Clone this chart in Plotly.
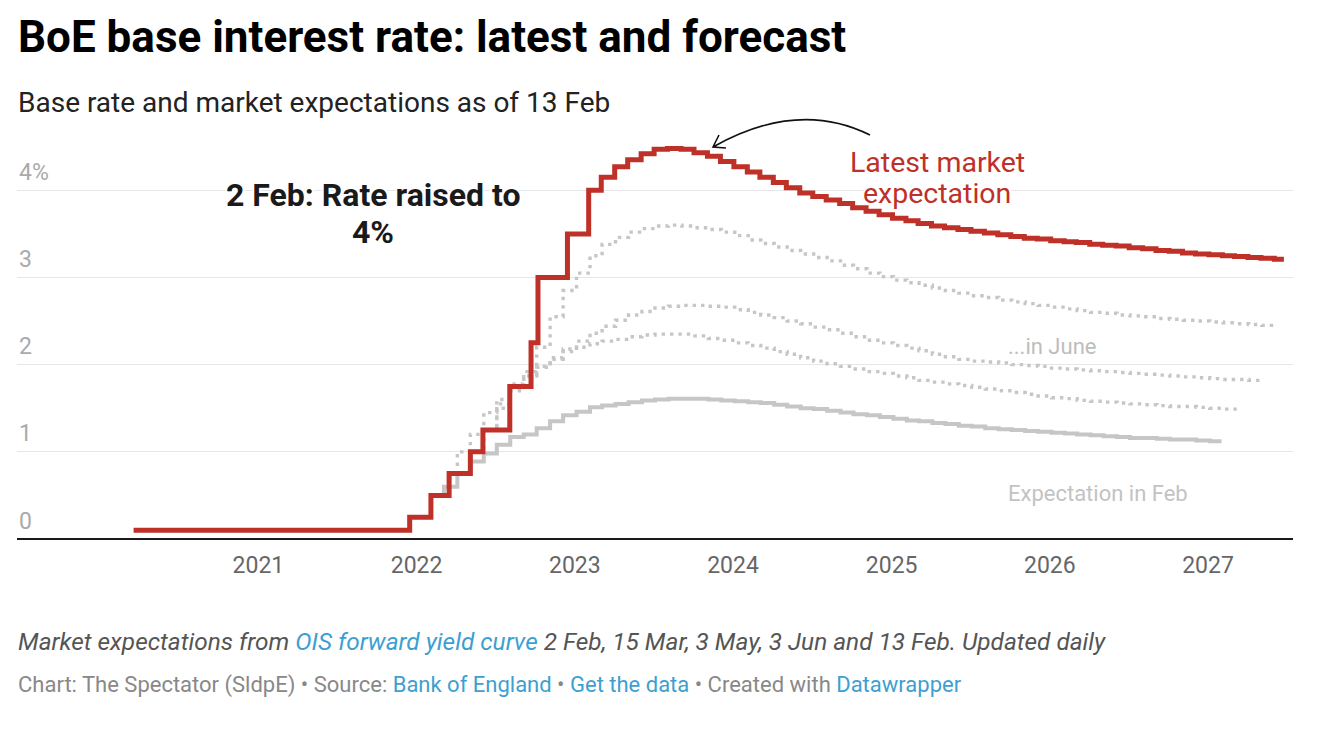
import plotly.graph_objects as go
import pandas as pd

# ---------------- data ----------------
# Bank Rate history (step changes)
base_dates = ["2020-03-19", "2021-12-16", "2022-02-03", "2022-03-17", "2022-05-05",
              "2022-06-03", "2022-08-04", "2022-09-22", "2022-10-08", "2022-12-15", "2023-02-02"]
base_values = [0.10, 0.25, 0.50, 0.75, 1.00, 1.25, 1.75, 2.25, 3.00, 3.50, 4.00]

# Latest market expectation (13 Feb), monthly from Mar 2023
latest_first_month = "2023-03-01"
latest_end = "2027-06-25"
latest_values = [4.15, 4.27, 4.35, 4.42, 4.47, 4.48, 4.47, 4.43, 4.39, 4.33,
                 4.27, 4.21, 4.15, 4.09, 4.03, 3.97, 3.93, 3.89, 3.85, 3.80, 3.76, 3.72,
                 3.68, 3.65, 3.62, 3.59, 3.57, 3.55, 3.53, 3.51, 3.49, 3.47, 3.45, 3.44,
                 3.42, 3.41, 3.40, 3.38, 3.37, 3.36, 3.34, 3.33, 3.31, 3.30, 3.28, 3.27,
                 3.26, 3.25, 3.24, 3.23, 3.22, 3.21]

# Expectation in Feb 2022 (solid grey)
feb_start, feb_start_value, feb_first_month, feb_end = "2022-02-03", 0.50, "2022-03-01", "2027-02-01"
feb_values = [0.60, 0.75, 0.89, 0.98, 1.08, 1.17, 1.20, 1.27, 1.35, 1.42,
              1.46, 1.51, 1.53, 1.55, 1.57, 1.59, 1.60, 1.61, 1.61, 1.61, 1.60, 1.59,
              1.58, 1.57, 1.56, 1.54, 1.52, 1.50, 1.49, 1.47, 1.45, 1.43, 1.42, 1.40,
              1.38, 1.36, 1.35, 1.33, 1.32, 1.30, 1.29, 1.27, 1.26, 1.25, 1.24, 1.23,
              1.22, 1.21, 1.20, 1.19, 1.18, 1.17, 1.16, 1.16, 1.15, 1.14, 1.14, 1.13,
              1.12]

# Expectation 15 Mar 2022 (dotted)
mar_start, mar_start_value, mar_first_month, mar_end = "2022-03-15", 0.75, "2022-04-01", "2027-03-15"
mar_values = [1.00, 1.20, 1.45, 1.60, 1.75, 1.87, 1.98, 2.06, 2.15,
              2.20, 2.24, 2.27, 2.29, 2.32, 2.34, 2.35, 2.35, 2.35, 2.33, 2.30, 2.28,
              2.25, 2.22, 2.19, 2.15, 2.12, 2.08, 2.04, 2.01, 1.98, 1.95, 1.92, 1.90,
              1.87, 1.85, 1.82, 1.80, 1.78, 1.76, 1.74, 1.72, 1.70, 1.68, 1.66, 1.64,
              1.62, 1.61, 1.59, 1.58, 1.57, 1.56, 1.55, 1.54, 1.53, 1.52, 1.52, 1.51,
              1.50, 1.49]

# Expectation 3 May 2022 (dotted)
may_start, may_start_value, may_first_month, may_end = "2022-05-03", 1.00, "2022-06-01", "2027-05-03"
may_values = [1.25, 1.50, 1.70, 1.85, 1.97, 2.08, 2.18,
              2.27, 2.36, 2.44, 2.51, 2.57, 2.61, 2.65, 2.67, 2.68, 2.68, 2.67, 2.66,
              2.63, 2.60, 2.57, 2.54, 2.50, 2.47, 2.43, 2.40, 2.36, 2.32, 2.28, 2.25,
              2.22, 2.19, 2.16, 2.12, 2.09, 2.06, 2.04, 2.03, 2.02, 2.00, 1.99, 1.98,
              1.96, 1.95, 1.94, 1.93, 1.92, 1.91, 1.90, 1.89, 1.88, 1.87, 1.86, 1.85,
              1.84, 1.83, 1.83, 1.82]

# Expectation 3 Jun 2022 (dotted)
jun_start, jun_start_value, jun_first_month, jun_end = "2022-06-03", 1.25, "2022-07-01", "2027-06-03"
jun_values = [1.55, 1.78, 1.92, 2.20, 2.55, 2.85,
              3.05, 3.25, 3.38, 3.46, 3.52, 3.56, 3.59, 3.60, 3.59, 3.57, 3.55, 3.52,
              3.48, 3.43, 3.39, 3.35, 3.31, 3.27, 3.23, 3.19, 3.14, 3.10, 3.05, 3.01,
              2.97, 2.94, 2.91, 2.88, 2.85, 2.82, 2.79, 2.77, 2.74, 2.72, 2.70, 2.68,
              2.66, 2.64, 2.62, 2.60, 2.59, 2.57, 2.56, 2.55, 2.53, 2.52, 2.51, 2.50,
              2.49, 2.48, 2.47, 2.46, 2.45]

year_ticks = ["2021-01-01", "2022-01-01", "2023-01-01", "2024-01-01",
              "2025-01-01", "2026-01-01", "2027-01-01"]
year_labels = ["2021", "2022", "2023", "2024", "2025", "2026", "2027"]
y_ticks = [0, 1, 2, 3, 4]
y_labels = ["0", "1", "2", "3", "4%"]
x_range = ["2019-06-24", "2027-07-16"]
y_range = [0, 4.6]

# ---------------- helpers ----------------
def monthly(first, n, day=4):
    return list(pd.date_range(first, periods=n, freq="MS") + pd.Timedelta(days=day))


def series(start, start_value, first_month, values, end):
    dates = [pd.Timestamp(start)] + monthly(first_month, len(values)) + [pd.Timestamp(end)]
    vals = [start_value] + list(values) + [values[-1]]
    return dates, vals


red_dates = [pd.Timestamp(d) for d in base_dates] + monthly(latest_first_month, len(latest_values), 2) + [pd.Timestamp(latest_end)]
red_vals = base_values + latest_values + [latest_values[-1]]

# the page has an 8px body margin: figure is laid out so page coordinates match
OFF = 8
W, H = 1326 - OFF, 730 - OFF
PL, PR, PT, PB = 17 - OFF, 1293 - OFF, 138 - OFF, 539 - OFF


def px(x):  # page x -> paper
    return (x - OFF - PL) / (PR - PL)


def py(y):  # page y -> paper
    return (PB - (y - OFF)) / (PB - PT)


RED = "#be3028"
GREY = "#c6c6c6"
LINK = "#3d9fd1"
HALO = ("#fff 2px 0 0, #fff -2px 0 0, #fff 0 2px 0, #fff 0 -2px 0, "
        "#fff 1.5px 1.5px 0, #fff -1.5px -1.5px 0, #fff 1.5px -1.5px 0, #fff -1.5px 1.5px 0")

fig = go.Figure()

for (s, sv, fm, vals, e), dash, width in [
    ((feb_start, feb_start_value, feb_first_month, feb_values, feb_end), "solid", 4),
    ((mar_start, mar_start_value, mar_first_month, mar_values, mar_end), "3.4px,5px", 3.4),
    ((may_start, may_start_value, may_first_month, may_values, may_end), "3.4px,5px", 3.4),
    ((jun_start, jun_start_value, jun_first_month, jun_values, jun_end), "3.4px,5px", 3.4),
]:
    d, v = series(s, sv, fm, vals, e)
    fig.add_trace(go.Scatter(x=d, y=v, mode="lines", line=dict(color=GREY, width=width, dash=dash, shape="hv"),
                             hoverinfo="skip"))

fig.add_trace(go.Scatter(x=red_dates, y=red_vals, mode="lines",
                         line=dict(color=RED, width=5, shape="hv"), hoverinfo="skip"))

annotations = []


def text(x, y, t, size, color, anchor="left", bold=False, italic=False, shadow=None):
    f = dict(family="Roboto", size=size, color=color)
    if shadow:
        f["shadow"] = shadow
    if bold:
        t = "<b>" + t + "</b>"
    if italic:
        t = "<i>" + t + "</i>"
    annotations.append(dict(x=x, y=y, xref="paper", yref="paper", text=t, showarrow=False,
                            xanchor=anchor, yanchor="middle", font=f, borderpad=0))


text(px(17), py(37), "BoE base interest rate: latest and forecast", 44, "#000", bold=True)
text(px(17), py(102), "Base rate and market expectations as of 13 Feb", 28, "#222")

for v, lab in zip(y_ticks, y_labels):
    annotations.append(dict(x=0, y=v, xref="paper", yref="y", text=lab, showarrow=False,
                            xanchor="left", yanchor="middle", yshift=18,
                            font=dict(family="Roboto", size=23, color="#aaaaaa")))

text(px(373), py(195), "2 Feb: Rate raised to", 32, "#1a1a1a", anchor="center", bold=True, shadow=HALO)
text(px(373), py(232), "4%", 32, "#1a1a1a", anchor="center", bold=True, shadow=HALO)
text(px(937), py(162), "Latest market", 28.5, RED, anchor="center", shadow=HALO)
text(px(937), py(193), "expectation", 28.5, RED, anchor="center", shadow=HALO)
text(px(1007), py(346), "...in June", 22, "#bdbdbd", shadow=HALO)
text(px(1007), py(493), "Expectation in Feb", 22, "#c3c3c3", shadow=HALO)

text(px(17), py(641), "Market expectations from <span style='color:%s'>OIS forward yield curve</span> "
     "2 Feb, 15 Mar, 3 May, 3 Jun and 13 Feb. Updated daily" % LINK, 24.4, "#555", italic=True)
text(px(17), py(685), "Chart: The Spectator (SldpE) • Source: <span style='color:%s'>Bank of England</span> • "
     "<span style='color:%s'>Get the data</span> • Created with <span style='color:%s'>Datawrapper</span>"
     % (LINK, LINK, LINK), 22, "#888")

# curved arrow pointing at the peak of the latest expectation
arrow_path = "M %f,%f Q %f,%f %f,%f M %f,%f L %f,%f L %f,%f" % (
    px(870), py(135), px(798), py(99), px(713), py(147),
    px(719), py(135), px(713), py(147), px(726), py(148))

shapes = [
    dict(type="line", xref="paper", yref="paper", x0=0, x1=1, y0=0, y1=0,
         line=dict(color="#1a1a1a", width=2), layer="above"),
    dict(type="path", xref="paper", yref="paper", path=arrow_path,
         line=dict(color="#111", width=1.6), layer="above"),
]

fig.update_layout(
    width=W, height=H,
    margin=dict(l=PL, r=W - PR, t=PT, b=H - PB, pad=0),
    paper_bgcolor="white", plot_bgcolor="white",
    showlegend=False, hovermode=False,
    font=dict(family="Roboto"),
    annotations=annotations, shapes=shapes,
    xaxis=dict(type="date", range=x_range, tickvals=year_ticks, ticktext=year_labels,
               showgrid=False, zeroline=False, showline=False, ticks="",
               tickfont=dict(family="Roboto", size=23, color="#666"), ticklabelstandoff=10,
               automargin=False, fixedrange=True),
    yaxis=dict(range=y_range, tickvals=[1, 2, 3, 4], showticklabels=False, showgrid=True,
               gridcolor="#e6e6e6", gridwidth=1.2, zeroline=False, showline=False, ticks="",
               automargin=False, fixedrange=True),
)

fig.write_html("out.html")
